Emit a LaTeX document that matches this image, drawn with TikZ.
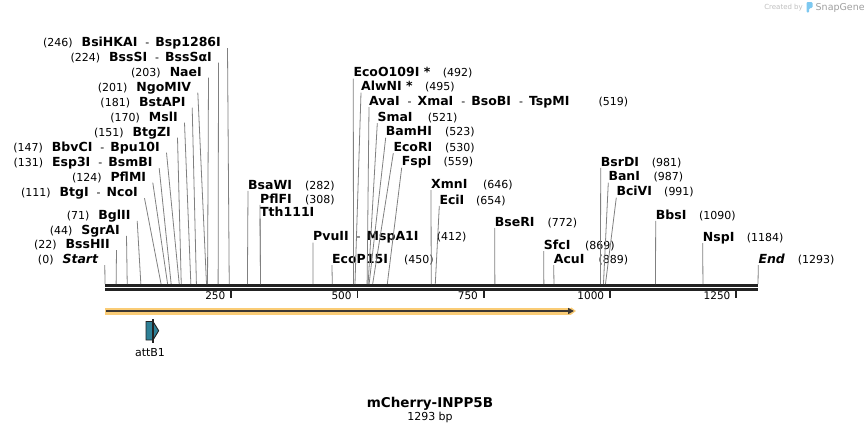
\documentclass[tikz,border=0pt]{standalone}
\usepackage{fontspec}
\setmainfont{DejaVu Sans}
\usetikzlibrary{arrows.meta,positioning,calc}

\definecolor{leadgray}{RGB}{128,128,128}
\definecolor{rulerdark}{RGB}{34,34,34}
\definecolor{featorange}{RGB}{250,204,118}
\definecolor{featline}{RGB}{60,55,50}
\definecolor{attteal}{RGB}{46,128,150}
\definecolor{wmgray}{RGB}{190,190,190}
\definecolor{snapblue}{RGB}{125,200,240}

\newcommand{\enz}[1]{{\fontsize{12.5}{14}\selectfont\bfseries #1}}
\newcommand{\dsh}{\hspace{8pt}-\hspace{6pt}}

\begin{document}
\begin{tikzpicture}[x=1pt, y=-1pt,
    lbl/.style={inner sep=0pt, text depth=1.5pt, font=\fontsize{11}{13}\selectfont},
    lft/.style={lbl, anchor=base east},
    rgt/.style={lbl, anchor=base west},
    leader/.style={draw=leadgray, line width=0.8pt},
    rulerline/.style={draw=rulerdark, line width=2.6pt},
    tick/.style={draw=rulerdark, line width=1.8pt},
    ticklbl/.style={lbl, anchor=base east, xshift=-5pt, yshift=-2.3pt, font=\fontsize{10.5}{12}\selectfont}
  ]
  \useasboundingbox (0,0) rectangle (864,434);

  % sequence ruler
  \coordinate (s0) at (105,284);
  \coordinate (s1) at (758,284);
  \draw[rulerline] ([yshift=-1.5pt]s0) -- ([yshift=-1.5pt]s1);
  \draw[rulerline] ([yshift=-5.6pt]s0) -- ([yshift=-5.6pt]s1);
  \draw[tick] ($(s0)!250/1293!(s1)$) ++(0,7) -- ++(0,6.5) node[ticklbl] (t250) {250};
  \draw[tick] ($(s0)!500/1293!(s1)$) ++(0,7) -- ++(0,6.5) node[ticklbl] (t500) {500};
  \draw[tick] ($(s0)!750/1293!(s1)$) ++(0,7) -- ++(0,6.5) node[ticklbl] (t750) {750};
  \draw[tick] ($(s0)!1000/1293!(s1)$) ++(0,7) -- ++(0,6.5) node[ticklbl] (t1000) {1000};
  \draw[tick] ($(s0)!1250/1293!(s1)$) ++(0,7) -- ++(0,6.5) node[ticklbl] (t1250) {1250};

  % sites left of their lines
  \node[lft] (bsihkai) at (221,46.5) {(246)\hspace{9pt}\enz{BsiHKAI}\dsh\enz{Bsp1286I}};
  \node[lft] (bsssi) at (212,61) {(224)\hspace{9pt}\enz{BssSI}\dsh\enz{BssSαI}};
  \node[lft] (naei) at (202,76) {(203)\hspace{9pt}\enz{NaeI}};
  \node[lft] (ngomiv) at (191.3,91) {(201)\hspace{9pt}\enz{NgoMIV}};
  \node[lft] (bstapi) at (185.7,106) {(181)\hspace{9pt}\enz{BstAPI}};
  \node[lft] (msli) at (178,121) {(170)\hspace{9pt}\enz{MslI}};
  \node[lft] (btgzi) at (171,136) {(151)\hspace{9pt}\enz{BtgZI}};
  \node[lft] (bbvci) at (160,151) {(147)\hspace{9pt}\enz{BbvCI}\dsh\enz{Bpu10I}};
  \node[lft] (esp3i) at (152.7,166.5) {(131)\hspace{9pt}\enz{Esp3I}\dsh\enz{BsmBI}};
  \node[lft] (pflmi) at (146.3,181) {(124)\hspace{9pt}\enz{PflMI}};
  \node[lft] (btgi) at (138,196.5) {(111)\hspace{9pt}\enz{BtgI}\dsh\enz{NcoI}};
  \node[lft] (bglii) at (130.7,219.2) {(71)\hspace{9pt}\enz{BglII}};
  \node[lft] (sgrai) at (120,234.2) {(44)\hspace{9pt}\enz{SgrAI}};
  \node[lft] (bsshii) at (110,248.5) {(22)\hspace{9pt}\enz{BssHII}};
  \node[lft] (startl) at (98.3,263.5) {(0)\hspace{9pt}\enz{\itshape Start}};

  \draw[leader] ([xshift=6.5pt]bsihkai.south east) -- ($(s0)!246/1293!(s1)$);
  \draw[leader] ([xshift=6.5pt]bsssi.south east) -- ($(s0)!224/1293!(s1)$);
  \draw[leader] ([xshift=6.5pt]naei.south east) -- ($(s0)!203/1293!(s1)$);
  \draw[leader] ([xshift=6.5pt]ngomiv.south east) -- ($(s0)!201/1293!(s1)$);
  \draw[leader] ([xshift=6.5pt]bstapi.south east) -- ($(s0)!181/1293!(s1)$);
  \draw[leader] ([xshift=6.5pt]msli.south east) -- ($(s0)!170/1293!(s1)$);
  \draw[leader] ([xshift=6.5pt]btgzi.south east) -- ($(s0)!151/1293!(s1)$);
  \draw[leader] ([xshift=6.5pt]bbvci.south east) -- ($(s0)!147/1293!(s1)$);
  \draw[leader] ([xshift=6.5pt]esp3i.south east) -- ($(s0)!131/1293!(s1)$);
  \draw[leader] ([xshift=6.5pt]pflmi.south east) -- ($(s0)!124/1293!(s1)$);
  \draw[leader] ([xshift=6.5pt]btgi.south east) -- ($(s0)!111/1293!(s1)$);
  \draw[leader] ([xshift=6.5pt]bglii.south east) -- ($(s0)!71/1293!(s1)$);
  \draw[leader] ([xshift=6.5pt]sgrai.south east) -- ($(s0)!44/1293!(s1)$);
  \draw[leader] ([xshift=6.5pt]bsshii.south east) -- ($(s0)!22/1293!(s1)$);
  \draw[leader] ([xshift=6.5pt]startl.south east) -- (s0);

  % sites right of their lines
  \node[rgt] (bsawi) at (248,189.2) {\makebox[57pt][l]{\enz{BsaWI}}(282)};
  \node[rgt] (pflfi) at (260,203.2) {\makebox[45pt][l]{\enz{PflFI}}(308)};
  \node[rgt] (tth) at (260,216.8) {\enz{Tth111I}};
  \node[rgt] (pvuii) at (313,240.9) {\makebox[123.7pt][l]{\enz{PvuII}\dsh\enz{MspA1I}}(412)};
  \node[rgt] (ecop15i) at (332,263.5) {\makebox[72pt][l]{\enz{EcoP15I}}(450)};
  \node[rgt] (eco109) at (353.3,76.9) {\makebox[89.4pt][l]{\enz{EcoO109I *}}(492)};
  \node[rgt] (alwni) at (361,90.9) {\makebox[64pt][l]{\enz{AlwNI *}}(495)};
  \node[rgt] (avai) at (369,105.5) {\makebox[229.3pt][l]{\enz{AvaI}\dsh\enz{XmaI}\dsh\enz{BsoBI}\dsh\enz{TspMI}}(519)};
  \node[rgt] (smai) at (377.3,121.5) {\makebox[50.4pt][l]{\enz{SmaI}}(521)};
  \node[rgt] (bamhi) at (385.7,135.9) {\makebox[59.3pt][l]{\enz{BamHI}}(523)};
  \node[rgt] (ecori) at (393.3,151.5) {\makebox[51.7pt][l]{\enz{EcoRI}}(530)};
  \node[rgt] (fspi) at (401.7,165.9) {\makebox[41.6pt][l]{\enz{FspI}}(559)};
  \node[rgt] (xmni) at (431,188.5) {\makebox[52pt][l]{\enz{XmnI}}(646)};
  \node[rgt] (ecii) at (439.3,204.2) {\makebox[36.7pt][l]{\enz{EciI}}(654)};
  \node[rgt] (bseri) at (494.7,226.2) {\makebox[52.6pt][l]{\enz{BseRI}}(772)};
  \node[rgt] (sfci) at (543.7,249.5) {\makebox[41.3pt][l]{\enz{SfcI}}(869)};
  \node[rgt] (acui) at (553.7,263.5) {\makebox[44.6pt][l]{\enz{AcuI}}(889)};
  \node[rgt] (bsrdi) at (600.7,166.2) {\makebox[51pt][l]{\enz{BsrDI}}(981)};
  \node[rgt] (bani) at (608.3,180.9) {\makebox[45pt][l]{\enz{BanI}}(987)};
  \node[rgt] (bcivi) at (616.3,195.9) {\makebox[47.7pt][l]{\enz{BciVI}}(991)};
  \node[rgt] (bbsi) at (655.7,219.2) {\makebox[43.3pt][l]{\enz{BbsI}}(1090)};
  \node[rgt] (nspi) at (702.7,241.5) {\makebox[44pt][l]{\enz{NspI}}(1184)};
  \node[rgt] (endl) at (758.3,263.5) {\makebox[39.4pt][l]{\enz{\itshape End}}(1293)};

  \draw[leader] (bsawi.south west) -- ($(s0)!282/1293!(s1)$);
  \draw[leader] (pflfi.south west) -- ($(s0)!308/1293!(s1)$);
  \draw[leader] (tth.south west) -- ($(s0)!308/1293!(s1)$);
  \draw[leader] (pvuii.south west) -- ($(s0)!412/1293!(s1)$);
  \draw[leader] (ecop15i.south west) -- ($(s0)!450/1293!(s1)$);
  \draw[leader] (eco109.south west) -- ($(s0)!492/1293!(s1)$);
  \draw[leader] (alwni.south west) -- ($(s0)!495/1293!(s1)$);
  \draw[leader] (avai.south west) -- ($(s0)!519/1293!(s1)$);
  \draw[leader] (smai.south west) -- ($(s0)!521/1293!(s1)$);
  \draw[leader] (bamhi.south west) -- ($(s0)!523/1293!(s1)$);
  \draw[leader] (ecori.south west) -- ($(s0)!530/1293!(s1)$);
  \draw[leader] (fspi.south west) -- ($(s0)!559/1293!(s1)$);
  \draw[leader] (xmni.south west) -- ($(s0)!646/1293!(s1)$);
  \draw[leader] (ecii.south west) -- ($(s0)!654/1293!(s1)$);
  \draw[leader] (bseri.south west) -- ($(s0)!772/1293!(s1)$);
  \draw[leader] (sfci.south west) -- ($(s0)!869/1293!(s1)$);
  \draw[leader] (acui.south west) -- ($(s0)!889/1293!(s1)$);
  \draw[leader] (bsrdi.south west) -- ($(s0)!981/1293!(s1)$);
  \draw[leader] (bani.south west) -- ($(s0)!987/1293!(s1)$);
  \draw[leader] (bcivi.south west) -- ($(s0)!991/1293!(s1)$);
  \draw[leader] (bbsi.south west) -- ($(s0)!1090/1293!(s1)$);
  \draw[leader] (nspi.south west) -- ($(s0)!1184/1293!(s1)$);
  \draw[leader] (endl.south west) -- (s1);

  % feature arrow
  \coordinate (f0) at (105,311);
  \coordinate (f1) at (574,311);
  \draw[featorange, line width=7pt, -{Triangle[length=5pt,width=7pt]}] (f0) -- ([xshift=2pt]f1);
  \draw[featline, line width=2pt, -{Triangle[length=6pt,width=6pt]}] ([xshift=1pt]f0) -- (f1);

  % attB1
  \draw[fill=attteal, draw=rulerdark, line width=0.9pt] (146,321.5) -- (153,321.5) -- (158.7,330.7) -- (153,340) -- (146,340) -- cycle;
  \draw[rulerdark, line width=1.1pt] (153,319.3) -- (153,343.3);
  \node[lbl, font=\fontsize{11}{13}\selectfont] (attb1) at (150,353) {attB1};

  % title
  \node[lbl, anchor=base, font=\fontsize{13.5}{16}\selectfont\bfseries] (title) at (430,407.6) {mCherry-INPP5B};
  \node[lbl, anchor=base] (len) at (430,420.5) {1293 bp};

  % watermark
  \node[lbl, anchor=base east, text=wmgray, font=\fontsize{7}{8}\selectfont] (made) at (803,9.5) {Created by};
  \fill[snapblue, rounded corners=1.2pt] (806.5,2) -- (812.5,2) -- (812.5,8) -- (809.2,8) -- (809.2,12.5) -- (806.5,12.5) -- cycle;
  \node[lbl, anchor=base west, text=gray!75, font=\fontsize{9.5}{11}\selectfont] (snap) at (815.5,10.5) {SnapGene};
\end{tikzpicture}
\end{document}
